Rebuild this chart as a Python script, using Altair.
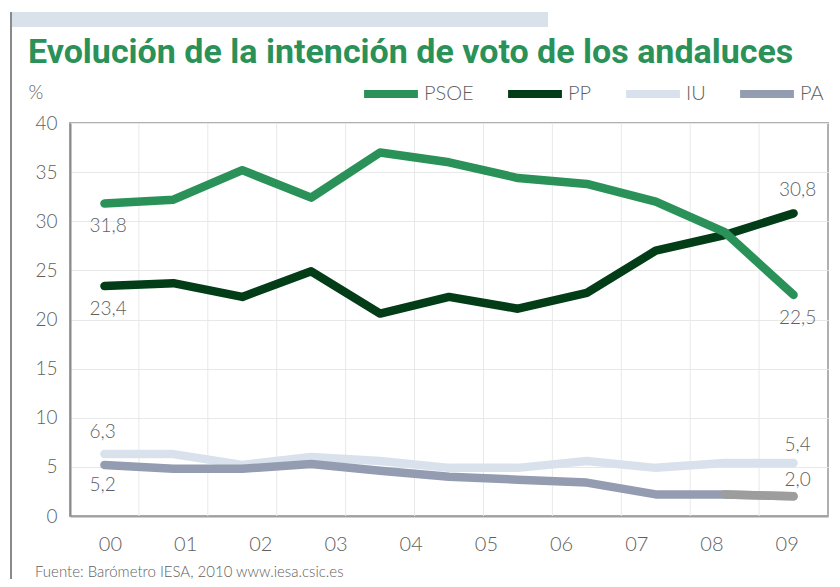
import json
import altair as alt
import numpy as np
import pandas as pd

# ---------------- data ----------------
years = ["00", "01", "02", "03", "04", "05", "06", "07", "08", "09"]
survey = list(range(11))
psoe = [31.8, 32.2, 35.2, 32.4, 37.0, 36.0, 34.4, 33.8, 32.0, 28.9, 22.5]
pp = [23.4, 23.7, 22.3, 24.9, 20.6, 22.3, 21.1, 22.7, 27.0, 28.6, 30.8]
iu = [6.3, 6.3, 5.2, 6.0, 5.6, 4.9, 4.9, 5.6, 4.9, 5.4, 5.4]
pa = [5.2, 4.8, 4.8, 5.3, 4.6, 4.0, 3.7, 3.4, 2.2, 2.2, 2.0]
parties = ["PSOE", "PP", "IU", "PA"]
colors = ["#2a9158", "#023d18", "#d9e2ec", "#939cb0"]

title_text = "Evolución de la intención de voto de los andaluces"
source_text = "Fuente: Barómetro IESA, 2010  www.iesa.csic.es"

# ---------------- tables ----------------
series = {"PSOE": psoe, "PP": pp, "IU": iu, "PA": pa}
rows = []
for p in parties:
    for i, v in zip(survey, series[p]):
        rows.append({"party": p, "i": i, "v": v, "lbl": f"{v:.1f}".replace(".", ",")})
df = pd.DataFrame(rows)

# ---------------- layout ----------------
W, H = 758, 393
FONT = "Lato"
GRAY = "#5f5f5f"
label_start, label_end = 0.08, 9.9
label_pos = [float(x) for x in np.linspace(label_start, label_end, len(years))]
step = (label_end - label_start) / (len(years) - 1)
label_expr = "%s[round((datum.value - %f) / %f)]" % (json.dumps(years), label_start, step)

xscale = alt.Scale(domain=[-0.5, 10.5], nice=False, zero=False)
yscale = alt.Scale(domain=[0, 40], nice=False)

color = alt.Color(
    "party:N",
    scale=alt.Scale(domain=parties, range=colors),
    legend=alt.Legend(
        orient="none", legendX=290, legendY=-60, direction="horizontal",
        title=None, symbolType="stroke", symbolStrokeWidth=8, symbolSize=2900,
        labelFontSize=20, labelColor=GRAY, labelFont=FONT, labelFontWeight=300,
        labelOffset=2, columnPadding=18,
    ),
)

x_enc = alt.X(
    "i:Q", scale=xscale,
    axis=alt.Axis(
        values=label_pos, labelExpr=label_expr, grid=False, ticks=False,
        domainColor="#a0a0a0", domainWidth=2, labelFontSize=20, labelFont=FONT,
        labelFontWeight=300, labelColor=GRAY, labelPadding=18, title=None,
    ),
)
y_enc = alt.Y(
    "v:Q", scale=yscale,
    axis=alt.Axis(
        values=list(range(0, 41, 5)), grid=True, gridColor="#e8e8e8", ticks=False,
        domainColor="#8a8a8a", domainWidth=2, labelFontSize=19, labelFont=FONT,
        labelFontWeight=300, labelColor=GRAY, labelPadding=13,
        title="%", titleAngle=0, titleX=-42, titleY=-31, titleAlign="left",
        titleBaseline="middle", titleFontWeight=300, titleFontSize=19,
        titleFont=FONT, titleColor=GRAY,
    ),
)

layers = []

# lines (drawn IU, PA, PP, PSOE so that PSOE is on top)
for p in ["IU", "PA", "PP", "PSOE"]:
    layers.append(
        alt.Chart(df).transform_filter(alt.datum.party == p)
        .mark_line(strokeWidth=8.5, strokeCap="round", strokeJoin="round")
        .encode(x=x_enc, y=y_enc, color=color)
    )

# vertical grid lines between the survey positions
grid_df = pd.DataFrame({"i": [k + 0.5 for k in survey[:-1]]})
grid = alt.Chart(grid_df).mark_rule(color="#e8e8e8", strokeWidth=1).encode(x=alt.X("i:Q", scale=xscale))

# last PA segment in plain gray
pa_last = (
    alt.Chart(df).transform_filter((alt.datum.party == "PA") & (alt.datum.i >= 9))
    .mark_line(strokeWidth=8.5, strokeCap="round", color="#9d9d9d")
    .encode(x=alt.X("i:Q", scale=xscale), y=alt.Y("v:Q", scale=yscale))
)

# value labels (first and last point of each series)
label_layout = [
    ("PSOE", 0, "left", -15, 22), ("PP", 0, "left", -15, 23),
    ("IU", 0, "left", -15, -22), ("PA", 0, "left", -15, 20),
    ("PSOE", 10, "center", 4, 23), ("PP", 10, "center", 4, -23),
    ("IU", 10, "center", 4, -18), ("PA", 10, "center", 4, -16),
]
label_layers = []
for p, i, al, dx, dy in label_layout:
    label_layers.append(
        alt.Chart(df).transform_filter((alt.datum.party == p) & (alt.datum.i == i))
        .mark_text(align=al, baseline="middle", dx=dx, dy=dy, fontSize=19, font=FONT,
                   fontWeight=300, color=GRAY)
        .encode(x=alt.X("i:Q", scale=xscale), y=alt.Y("v:Q", scale=yscale), text="lbl:N")
    )

# decorations
top_bar = alt.Chart(pd.DataFrame({"a": [0]})).mark_rect(color="#d9e1ea").encode(
    x=alt.value(-60), x2=alt.value(478), y=alt.value(-111), y2=alt.value(-96))
left_rule = alt.Chart(pd.DataFrame({"a": [0]})).mark_rule(color="#8a8a8a", strokeWidth=2).encode(
    x=alt.value(-59), y=alt.value(-111), y2=alt.value(470))
title = alt.Chart(pd.DataFrame({"t": [title_text]})).mark_text(
    align="left", baseline="alphabetic", fontSize=34, font="Roboto",
    fontWeight="bold", color="#2a9158").encode(x=alt.value(-42), y=alt.value(-60), text="t:N")
footer = alt.Chart(pd.DataFrame({"t": [source_text]})).mark_text(
    align="left", baseline="middle", fontSize=15, font=FONT, fontWeight=300,
    color=GRAY).encode(x=alt.value(-35), y=alt.value(449), text="t:N")

chart = alt.layer(
    top_bar, left_rule, grid, *layers, pa_last, *label_layers, title, footer
).properties(
    width=W, height=H,
    autosize=alt.AutoSizeParams(type="none"),
    padding={"left": 62, "top": 115, "right": 2, "bottom": 63},
).configure_view(stroke="#b0b0b0", strokeWidth=2)

chart.save("out.html", embed_options={"renderer": "svg", "actions": False})
